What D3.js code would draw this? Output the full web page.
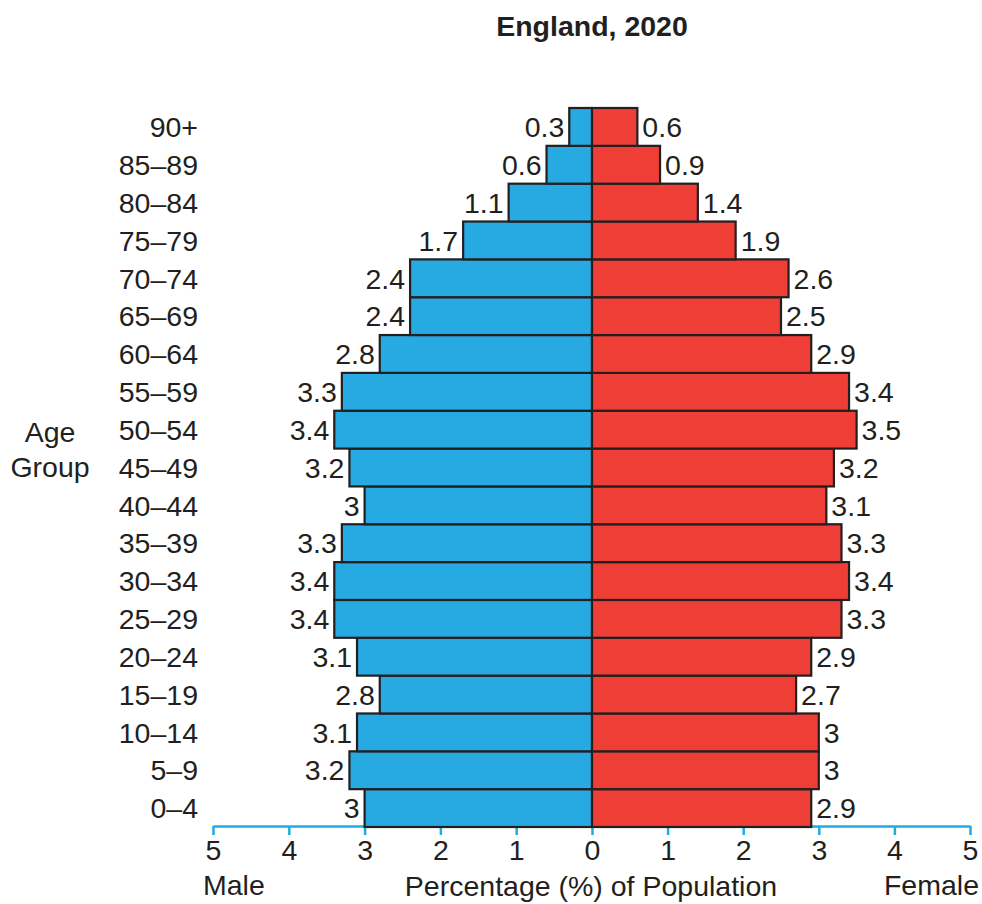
<!DOCTYPE html>
<html>
<head>
<meta charset="utf-8">
<script src="https://cdn.jsdelivr.net/npm/d3@7"></script>
<style>
  body { margin: 0; background: #fff; }
  text { font-family: "Liberation Sans", Arial, sans-serif; fill: #231f20; }
</style>
</head>
<body>
<svg id="chart" width="982" height="904"></svg>
<script>
var ageGroups = ['0\u20134', '5\u20139', '10\u201314', '15\u201319', '20\u201324', '25\u201329', '30\u201334', '35\u201339', '40\u201344', '45\u201349', '50\u201354', '55\u201359', '60\u201364', '65\u201369', '70\u201374', '75\u201379', '80\u201384', '85\u201389', '90+'];
var maleValues = [3, 3.2, 3.1, 2.8, 3.1, 3.4, 3.4, 3.3, 3, 3.2, 3.4, 3.3, 2.8, 2.4, 2.4, 1.7, 1.1, 0.6, 0.3];
var femaleValues = [2.9, 3, 3, 2.7, 2.9, 3.3, 3.4, 3.3, 3.1, 3.2, 3.5, 3.4, 2.9, 2.5, 2.6, 1.9, 1.4, 0.9, 0.6];
var maleTicks = [0, 1, 2, 3, 4, 5];
var femaleTicks = [1, 2, 3, 4, 5];

var svgEl = d3.select('#chart');
var fontSize = '28.5px';
var mid = 592;
var xMale = d3.scaleLinear().domain([0, 5]).range([mid, 213]);
var xFemale = d3.scaleLinear().domain([0, 5]).range([mid, 970]);
var y = d3.scaleBand().domain(ageGroups.slice().reverse()).range([108, 827]).padding(0);
var axisY = 826;

var rows = ageGroups.map(function(g, i) {
  return { group: g, male: maleValues[i], female: femaleValues[i] };
});

// axes first so bars sit over the line
var axisColor = '#1dade4';
function drawAxis(scale, ticks) {
  var g = svgEl.append('g').attr('transform', 'translate(0,' + axisY + ')')
    .call(d3.axisBottom(scale).tickValues(ticks).tickFormat(d3.format('d')).tickSize(9).tickPadding(5).tickSizeOuter(0));
  g.select('.domain').style('stroke', axisColor).style('stroke-width', 2.5);
  g.selectAll('.tick line').style('stroke', axisColor).style('stroke-width', 2.5);
  g.selectAll('.tick text').style('font-size', fontSize).style('fill', '#231f20')
    .attr('font-family', null);
  return g;
}
drawAxis(xMale, maleTicks);
drawAxis(xFemale, femaleTicks);

// male bars (blue) and female bars (red)
svgEl.append('g').selectAll('rect').data(rows).enter().append('rect')
  .attr('x', function(d) { return xMale(d.male); })
  .attr('y', function(d) { return y(d.group); })
  .attr('width', function(d) { return mid - xMale(d.male); })
  .attr('height', y.bandwidth())
  .style('fill', '#27a9e1').style('stroke', '#231f20').style('stroke-width', 2.2);

svgEl.append('g').selectAll('rect').data(rows).enter().append('rect')
  .attr('x', mid)
  .attr('y', function(d) { return y(d.group); })
  .attr('width', function(d) { return xFemale(d.female) - mid; })
  .attr('height', y.bandwidth())
  .style('fill', '#ef3e36').style('stroke', '#231f20').style('stroke-width', 2.2);

// value labels
svgEl.append('g').selectAll('text').data(rows).enter().append('text')
  .attr('x', function(d) { return xMale(d.male) - 5; })
  .attr('y', function(d) { return y(d.group) + y.bandwidth() / 2; })
  .attr('dy', '0.36em').attr('text-anchor', 'end')
  .style('font-size', fontSize)
  .text(function(d) { return d.male; });

svgEl.append('g').selectAll('text').data(rows).enter().append('text')
  .attr('x', function(d) { return xFemale(d.female) + 5; })
  .attr('y', function(d) { return y(d.group) + y.bandwidth() / 2; })
  .attr('dy', '0.36em').attr('text-anchor', 'start')
  .style('font-size', fontSize)
  .text(function(d) { return d.female; });

// age group labels
svgEl.append('g').selectAll('text').data(rows).enter().append('text')
  .attr('x', 198)
  .attr('y', function(d) { return y(d.group) + y.bandwidth() / 2; })
  .attr('dy', '0.36em').attr('text-anchor', 'end')
  .style('font-size', fontSize)
  .text(function(d) { return d.group; });

// titles
svgEl.append('text').attr('x', mid).attr('y', 36).attr('text-anchor', 'middle')
  .style('font-size', fontSize).style('font-weight', 'bold').text('England, 2020');
svgEl.append('text').attr('x', 50).attr('y', 442).attr('text-anchor', 'middle')
  .style('font-size', fontSize).text('Age');
svgEl.append('text').attr('x', 50).attr('y', 477).attr('text-anchor', 'middle')
  .style('font-size', fontSize).text('Group');
svgEl.append('text').attr('x', 203).attr('y', 895)
  .style('font-size', fontSize).text('Male');
svgEl.append('text').attr('x', 979).attr('y', 895).attr('text-anchor', 'end')
  .style('font-size', fontSize).text('Female');
svgEl.append('text').attr('x', 591).attr('y', 896).attr('text-anchor', 'middle')
  .style('font-size', fontSize).text('Percentage (%) of Population');
</script>
</body>
</html>
